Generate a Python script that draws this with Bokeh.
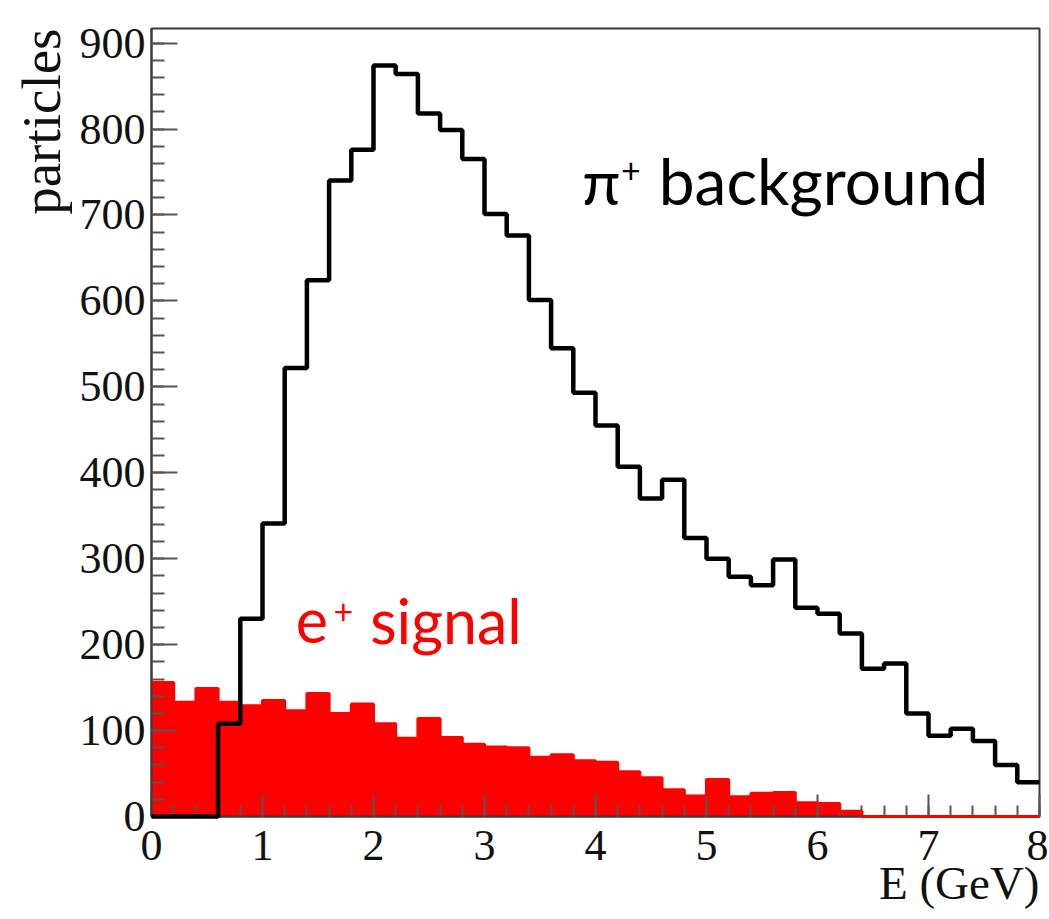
from bokeh.plotting import figure
from bokeh.models import Range1d, SingleIntervalTicker, Label, Title
from bokeh.embed import file_html
from bokeh.resources import INLINE

# Bin edges (GeV), 40 bins of 0.2 GeV
bin_edges = [0.0, 0.2, 0.4, 0.6, 0.8, 1.0, 1.2, 1.4, 1.6, 1.8,
             2.0, 2.2, 2.4, 2.6, 2.8, 3.0, 3.2, 3.4, 3.6, 3.8,
             4.0, 4.2, 4.4, 4.6, 4.8, 5.0, 5.2, 5.4, 5.6, 5.8,
             6.0, 6.2, 6.4, 6.6, 6.8, 7.0, 7.2, 7.4, 7.6, 7.8, 8.0]

# pi+ background counts per bin
pi_background = [0, 0, 0, 108, 230, 341, 522, 624, 740, 776,
                 874, 864, 818, 799, 765, 701, 676, 601, 545, 493,
                 455, 407, 370, 392, 324, 300, 279, 269, 299, 243,
                 236, 213, 172, 178, 120, 94, 102, 88, 60, 40]

# e+ signal counts per bin
e_signal = [156, 133, 149, 133, 129, 135, 123, 143, 120, 131,
            108, 91, 114, 92, 84, 81, 80, 69, 72, 65,
            63, 52, 45, 31, 24, 43, 23, 27, 28, 16,
            15, 6, 0, 0, 0, 0, 0, 0, 0, 0]

x_ticks_interval = 1
y_ticks_interval = 100

FRAME = "#3a3a3a"
SERIF = "Liberation Serif"
SANS = "Lato"

p = figure(width=1048, height=916,
           x_range=Range1d(0, 8), y_range=Range1d(0, 917),
           output_backend="svg", toolbar_location=None,
           min_border_left=151, min_border_top=28,
           min_border_right=9, min_border_bottom=100)

p.grid.visible = False
p.background_fill_color = "white"
p.border_fill_color = "white"
p.outline_line_color = FRAME
p.outline_line_width = 2

p.xaxis.ticker = SingleIntervalTicker(interval=x_ticks_interval, num_minor_ticks=5)
p.yaxis.ticker = SingleIntervalTicker(interval=y_ticks_interval, num_minor_ticks=5)

for ax in (p.xaxis[0], p.yaxis[0]):
    ax.axis_line_color = FRAME
    ax.axis_line_width = 2
    ax.major_tick_line_color = "#555555"
    ax.minor_tick_line_color = "#555555"
    ax.major_tick_line_width = 2
    ax.minor_tick_line_width = 2
    ax.major_tick_out = 0
    ax.minor_tick_out = 0
    ax.major_label_text_font = SERIF
    ax.major_label_text_font_size = "44px"
    ax.major_label_text_color = "#111111"

p.yaxis.major_tick_in = 26
p.yaxis.minor_tick_in = 13
p.yaxis.major_label_standoff = 6
p.xaxis.major_tick_in = 22
p.xaxis.minor_tick_in = 11
p.xaxis.major_label_standoff = 14

# step coordinates built from the bin arrays
xs = bin_edges
sig_y = e_signal + [e_signal[-1]]
bkg_y = pi_background + [pi_background[-1]]

p.varea_step(x=xs, y1=[0] * len(xs), y2=sig_y, step_mode="after",
             fill_color="#ff0000")
p.step(x=xs, y=sig_y, mode="after", line_color="#ff0000", line_width=3,
       level="overlay")
p.step(x=xs, y=bkg_y, mode="after", line_color="black", line_width=4.5,
       level="overlay")

# annotations
p.add_layout(Label(x=3.88, y=740, text="π", text_font=SANS,
                   text_font_size="62px", text_color="black",
                   text_baseline="alphabetic"))
p.add_layout(Label(x=4.23, y=752, text="+", text_font=SANS,
                   text_font_size="34px", text_color="black",
                   text_baseline="alphabetic"))
p.add_layout(Label(x=4.57, y=740, text="background", text_font=SANS,
                   text_font_size="64px", text_color="black",
                   text_baseline="alphabetic"))

p.add_layout(Label(x=1.30, y=228, text="e", text_font=SANS,
                   text_font_size="61px", text_color="#ff0000",
                   text_baseline="alphabetic"))
p.add_layout(Label(x=1.64, y=238, text="+", text_font=SANS,
                   text_font_size="34px", text_color="#ff0000",
                   text_baseline="alphabetic"))
p.add_layout(Label(x=1.97, y=228, text="signal", text_font=SANS,
                   text_font_size="61px", text_color="#ff0000",
                   text_baseline="alphabetic"))

# axis titles (ROOT style: at the far end of each axis)
p.add_layout(Title(text="particles", align="right", text_font=SERIF,
                   text_font_size="55px", text_font_style="normal",
                   text_color="#111111", standoff=10, offset=0), "left")
p.add_layout(Title(text="E (GeV)", align="right", text_font=SERIF,
                   text_font_size="47px", text_font_style="normal",
                   text_color="#111111", standoff=-15, offset=0), "below")

open("out.html", "w").write(file_html(p, INLINE))
